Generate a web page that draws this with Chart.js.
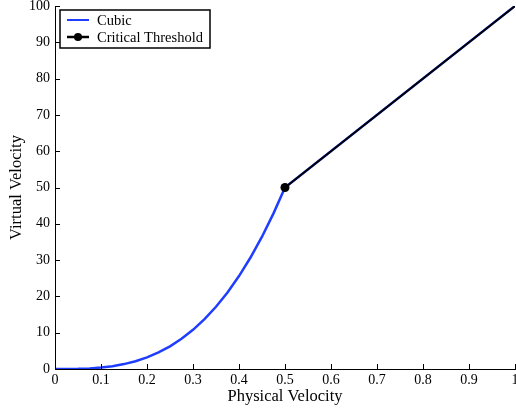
<!DOCTYPE html>
<html>
<head>
<meta charset="utf-8">
<script src="https://cdn.jsdelivr.net/npm/chart.js@4.4.1/dist/chart.umd.min.js"></script>
<style>
  html, body { margin: 0; padding: 0; background: #fff; }
  #wrap { width: 516px; height: 410px; position: relative; }
</style>
</head>
<body>
<div id="wrap"><canvas id="c" width="516" height="410"></canvas></div>
<script>
// Physical velocity samples and the virtual velocity of the cubic mapping
const physical = [0, 0.025, 0.05, 0.075, 0.1, 0.125, 0.15, 0.175, 0.2, 0.225, 0.25,
                  0.275, 0.3, 0.325, 0.35, 0.375, 0.4, 0.425, 0.45, 0.475, 0.5, 1];
const cubicVirtual = [0, 0.01, 0.05, 0.17, 0.4, 0.78, 1.35, 2.14, 3.2, 4.56, 6.25,
                      8.32, 10.8, 13.73, 17.15, 21.09, 25.6, 30.71, 36.45, 42.87, 50, 100];
// Linear segment beyond the critical threshold
const thresholdPhysical = [0.5, 1];
const thresholdVirtual = [50, 100];

const xTicks = [0, 0.1, 0.2, 0.3, 0.4, 0.5, 0.6, 0.7, 0.8, 0.9, 1];
const yTicks = [0, 10, 20, 30, 40, 50, 60, 70, 80, 90, 100];

const FONT = '"Liberation Serif", "Times New Roman", serif';

const toPoints = (xs, ys) => xs.map((x, i) => ({ x: x, y: ys[i] }));

// Short tick marks drawn inward from the left and bottom axes
const innerTicks = {
  id: 'innerTicks',
  afterDatasetsDraw(chart) {
    const { ctx, chartArea: a, scales } = chart;
    ctx.save();
    ctx.strokeStyle = '#000';
    ctx.lineWidth = 1;
    ctx.beginPath();
    xTicks.forEach(v => {
      const px = Math.round(scales.x.getPixelForValue(v)) + 0.5;
      ctx.moveTo(px, a.bottom);
      ctx.lineTo(px, a.bottom - 5);
    });
    yTicks.forEach(v => {
      const py = Math.round(scales.y.getPixelForValue(v)) + 0.5;
      ctx.moveTo(a.left, py);
      ctx.lineTo(a.left + 5, py);
    });
    ctx.stroke();
    ctx.restore();
  }
};

// Boxed legend placed in the upper-left corner of the plot
const boxLegend = {
  id: 'boxLegend',
  afterDraw(chart) {
    const { ctx, chartArea: a } = chart;
    const x0 = a.left + 5, y0 = a.top + 4, w = 150, h = 38;
    ctx.save();
    ctx.fillStyle = '#fff';
    ctx.fillRect(x0, y0, w, h);
    ctx.strokeStyle = '#000';
    ctx.lineWidth = 1.5;
    ctx.strokeRect(x0, y0, w, h);
    ctx.font = '14.5px ' + FONT;
    ctx.textBaseline = 'middle';
    ctx.fillStyle = '#000';
    const rows = [
      { ds: chart.data.datasets[0], y: y0 + 10 },
      { ds: chart.data.datasets[1], y: y0 + 27 }
    ];
    rows.forEach((r, i) => {
      ctx.strokeStyle = r.ds.borderColor;
      ctx.lineWidth = i === 0 ? 2 : 2.5;
      ctx.beginPath();
      ctx.moveTo(x0 + 7, r.y);
      ctx.lineTo(x0 + 29, r.y);
      ctx.stroke();
      if (i === 1) {
        ctx.fillStyle = '#000';
        ctx.beginPath();
        ctx.arc(x0 + 18, r.y, 4, 0, Math.PI * 2);
        ctx.fill();
      }
      ctx.fillStyle = '#000';
      ctx.fillText(r.ds.label, x0 + 37, r.y + 1);
    });
    ctx.restore();
  }
};

new Chart(document.getElementById('c'), {
  type: 'scatter',
  data: {
    datasets: [
      {
        label: 'Cubic',
        data: toPoints(physical, cubicVirtual),
        showLine: true,
        borderColor: '#1f3dff',
        borderWidth: 2.5,
        pointRadius: 0,
        tension: 0,
        order: 2
      },
      {
        label: 'Critical Threshold',
        data: toPoints(thresholdPhysical, thresholdVirtual),
        showLine: true,
        borderColor: '#000',
        backgroundColor: '#000',
        borderWidth: 2,
        pointRadius: [4.5, 0],
        pointBackgroundColor: '#000',
        pointBorderWidth: 0,
        order: 1
      }
    ]
  },
  options: {
    responsive: false,
    animation: false,
    events: [],
    layout: { autoPadding: false, padding: { top: 6, right: 1, left: 0, bottom: 0 } },
    plugins: { legend: { display: false }, tooltip: { enabled: false } },
    scales: {
      x: {
        type: 'linear',
        min: 0, max: 1,
        afterBuildTicks(s) { s.ticks = xTicks.map(v => ({ value: v })); },
        afterFit(s) { s.height = 41; s.paddingRight = 0; s.paddingLeft = 0; },
        grid: { display: true, drawOnChartArea: false, drawTicks: false },
        border: { display: true, color: '#000', width: 1 },
        ticks: {
          color: '#000', padding: 3, maxRotation: 0,
          font: { family: FONT, size: 14 },
          callback: v => String(v)
        },
        title: {
          display: true, text: 'Physical Velocity', color: '#000',
          font: { family: FONT, size: 16.5 }, padding: { top: 0, bottom: 3 }
        }
      },
      y: {
        type: 'linear',
        min: 0, max: 100,
        afterBuildTicks(s) { s.ticks = yTicks.map(v => ({ value: v })); },
        afterFit(s) { s.width = 55; s.paddingTop = 0; s.paddingBottom = 0; },
        grid: { display: true, drawOnChartArea: false, drawTicks: false },
        border: { display: true, color: '#000', width: 1 },
        ticks: {
          color: '#000', padding: 5,
          font: { family: FONT, size: 14 },
          callback: v => String(v)
        },
        title: {
          display: true, text: 'Virtual Velocity', color: '#000',
          font: { family: FONT, size: 16.5 }, padding: { top: 7, bottom: 0 }
        }
      }
    }
  },
  plugins: [innerTicks, boxLegend]
});
</script>
</body>
</html>
